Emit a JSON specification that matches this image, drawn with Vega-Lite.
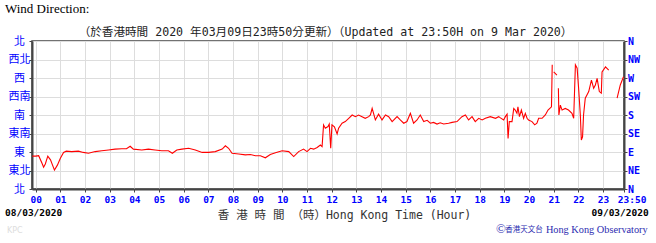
{
  "$schema": "https://vega.github.io/schema/vega-lite/v6.json",
  "width": 592,
  "height": 148,
  "autosize": "none",
  "padding": {"left": 32, "top": 41, "right": 32, "bottom": 54},
  "background": "white",
  "config": {
    "view": {"stroke": "#444", "strokeWidth": 1.5},
    "axis": {"domainColor": "#444", "domainWidth": 2, "tickColor": "#444", "tickWidth": 1, "gridColor": "#dddddd", "gridWidth": 1, "gridOpacity": 1, "labelFlush": false}
  },
  "datasets": {
    "wind": [
      {"hour": -0.14, "dir": 80}, {"hour": 0.0, "dir": 80}, {"hour": 0.12, "dir": 81}, {"hour": 0.26, "dir": 62}, {"hour": 0.32, "dir": 53}, {"hour": 0.39, "dir": 61}, {"hour": 0.49, "dir": 80}, {"hour": 0.6, "dir": 71}, {"hour": 0.76, "dir": 46}, {"hour": 0.88, "dir": 58}, {"hour": 1.0, "dir": 75}, {"hour": 1.13, "dir": 89}, {"hour": 1.24, "dir": 92}, {"hour": 1.46, "dir": 91}, {"hour": 1.73, "dir": 92}, {"hour": 1.93, "dir": 89}, {"hour": 2.14, "dir": 87}, {"hour": 2.41, "dir": 91}, {"hour": 2.68, "dir": 93}, {"hour": 2.95, "dir": 95}, {"hour": 3.22, "dir": 97}, {"hour": 3.49, "dir": 98}, {"hour": 3.68, "dir": 98}, {"hour": 3.83, "dir": 104}, {"hour": 3.96, "dir": 97}, {"hour": 4.3, "dir": 95}, {"hour": 4.57, "dir": 97}, {"hour": 4.84, "dir": 95}, {"hour": 5.11, "dir": 93}, {"hour": 5.38, "dir": 93}, {"hour": 5.54, "dir": 87}, {"hour": 5.72, "dir": 95}, {"hour": 5.93, "dir": 97}, {"hour": 6.2, "dir": 99}, {"hour": 6.47, "dir": 95}, {"hour": 6.75, "dir": 89}, {"hour": 7.01, "dir": 89}, {"hour": 7.28, "dir": 91}, {"hour": 7.56, "dir": 97}, {"hour": 7.69, "dir": 105}, {"hour": 7.82, "dir": 99}, {"hour": 7.96, "dir": 87}, {"hour": 8.23, "dir": 85}, {"hour": 8.5, "dir": 83}, {"hour": 8.7, "dir": 84}, {"hour": 8.91, "dir": 81}, {"hour": 9.11, "dir": 81}, {"hour": 9.31, "dir": 76}, {"hour": 9.51, "dir": 84}, {"hour": 9.72, "dir": 88}, {"hour": 9.99, "dir": 93}, {"hour": 10.26, "dir": 91}, {"hour": 10.46, "dir": 79}, {"hour": 10.66, "dir": 91}, {"hour": 10.86, "dir": 97}, {"hour": 11.0, "dir": 91}, {"hour": 11.14, "dir": 99}, {"hour": 11.27, "dir": 97}, {"hour": 11.41, "dir": 101}, {"hour": 11.54, "dir": 107}, {"hour": 11.61, "dir": 103}, {"hour": 11.67, "dir": 156}, {"hour": 11.74, "dir": 148}, {"hour": 11.85, "dir": 152}, {"hour": 11.9, "dir": 158}, {"hour": 11.96, "dir": 99}, {"hour": 12.01, "dir": 156}, {"hour": 12.11, "dir": 151}, {"hour": 12.22, "dir": 134}, {"hour": 12.28, "dir": 148}, {"hour": 12.42, "dir": 160}, {"hour": 12.55, "dir": 164}, {"hour": 12.69, "dir": 172}, {"hour": 12.83, "dir": 180}, {"hour": 12.96, "dir": 176}, {"hour": 13.09, "dir": 180}, {"hour": 13.23, "dir": 176}, {"hour": 13.36, "dir": 172}, {"hour": 13.5, "dir": 176}, {"hour": 13.57, "dir": 180}, {"hour": 13.64, "dir": 196}, {"hour": 13.77, "dir": 168}, {"hour": 13.9, "dir": 182}, {"hour": 14.04, "dir": 168}, {"hour": 14.18, "dir": 180}, {"hour": 14.31, "dir": 176}, {"hour": 14.45, "dir": 164}, {"hour": 14.65, "dir": 176}, {"hour": 14.78, "dir": 168}, {"hour": 14.92, "dir": 160}, {"hour": 15.05, "dir": 164}, {"hour": 15.19, "dir": 184}, {"hour": 15.32, "dir": 160}, {"hour": 15.46, "dir": 168}, {"hour": 15.59, "dir": 180}, {"hour": 15.73, "dir": 164}, {"hour": 15.87, "dir": 167}, {"hour": 16.0, "dir": 160}, {"hour": 16.13, "dir": 162}, {"hour": 16.27, "dir": 158}, {"hour": 16.4, "dir": 161}, {"hour": 16.54, "dir": 158}, {"hour": 16.74, "dir": 160}, {"hour": 16.88, "dir": 162}, {"hour": 17.08, "dir": 164}, {"hour": 17.28, "dir": 176}, {"hour": 17.42, "dir": 180}, {"hour": 17.55, "dir": 168}, {"hour": 17.69, "dir": 176}, {"hour": 17.82, "dir": 164}, {"hour": 17.96, "dir": 172}, {"hour": 18.1, "dir": 168}, {"hour": 18.23, "dir": 172}, {"hour": 18.43, "dir": 176}, {"hour": 18.64, "dir": 172}, {"hour": 18.77, "dir": 176}, {"hour": 18.84, "dir": 173}, {"hour": 18.97, "dir": 168}, {"hour": 19.04, "dir": 176}, {"hour": 19.11, "dir": 182}, {"hour": 19.15, "dir": 123}, {"hour": 19.2, "dir": 164}, {"hour": 19.31, "dir": 164}, {"hour": 19.38, "dir": 196}, {"hour": 19.44, "dir": 192}, {"hour": 19.51, "dir": 184}, {"hour": 19.55, "dir": 200}, {"hour": 19.61, "dir": 176}, {"hour": 19.69, "dir": 192}, {"hour": 19.78, "dir": 172}, {"hour": 19.85, "dir": 184}, {"hour": 19.92, "dir": 172}, {"hour": 19.98, "dir": 168}, {"hour": 20.12, "dir": 164}, {"hour": 20.23, "dir": 156}, {"hour": 20.32, "dir": 160}, {"hour": 20.39, "dir": 172}, {"hour": 20.53, "dir": 172}, {"hour": 20.66, "dir": 180}, {"hour": 20.77, "dir": 192}, {"hour": 20.91, "dir": 200}, {"hour": 20.94, "dir": 302}, {"hour": 20.96, "dir": null}, {"hour": 21.0, "dir": 285}, {"hour": 21.13, "dir": 277}, {"hour": 21.16, "dir": null}, {"hour": 21.19, "dir": 245}, {"hour": 21.21, "dir": 180}, {"hour": 21.27, "dir": 204}, {"hour": 21.34, "dir": 192}, {"hour": 21.47, "dir": 196}, {"hour": 21.6, "dir": 192}, {"hour": 21.74, "dir": 184}, {"hour": 21.81, "dir": 172}, {"hour": 21.88, "dir": 302}, {"hour": 21.95, "dir": 294}, {"hour": 22.01, "dir": 245}, {"hour": 22.08, "dir": 180}, {"hour": 22.12, "dir": 119}, {"hour": 22.17, "dir": 127}, {"hour": 22.21, "dir": 180}, {"hour": 22.28, "dir": 221}, {"hour": 22.42, "dir": 237}, {"hour": 22.53, "dir": 265}, {"hour": 22.62, "dir": 245}, {"hour": 22.69, "dir": 253}, {"hour": 22.76, "dir": 269}, {"hour": 22.85, "dir": 237}, {"hour": 22.93, "dir": 233}, {"hour": 22.96, "dir": 285}, {"hour": 23.1, "dir": 297}, {"hour": 23.23, "dir": 289}, {"hour": 23.3, "dir": null}, {"hour": 23.57, "dir": 221}, {"hour": 23.7, "dir": 253}, {"hour": 23.83, "dir": 273}
    ]
  },
  "layer": [
    {
      "data": {"name": "wind"},
      "mark": {"type": "line", "color": "#ff0000", "strokeWidth": 1.1, "clip": true},
      "encoding": {
        "x": {
          "field": "hour", "type": "quantitative",
          "scale": {"domain": [-0.15, 23.85], "nice": false, "zero": false},
          "axis": {
            "values": [0,1,2,3,4,5,6,7,8,9,10,11,12,13,14,15,16,17,18,19,20,21,22,23,23.8333],
            "labelExpr": "datum.value > 23.5 ? '23:50' : (datum.value < 10 ? '0' : '') + datum.value",
            "labelFont": "DejaVu Sans Mono", "labelFontWeight": "bold", "labelFontSize": 9.5, "labelColor": "#0000ff",
            "labelPadding": 2, "tickSize": 3, "grid": true, "labelOverlap": false,
            "labelOffset": {"condition": {"test": "datum.value > 23.5", "value": 8}, "value": 0},
            "title": "香 港 時 間 （時）Hong Kong Time (Hour)",
            "titleFont": "DejaVu Sans Mono, Noto Sans CJK TC", "titleFontSize": 11.5, "titleFontWeight": "normal", "titleColor": "#333333",
            "titleX": 312, "titleY": 29, "titleBaseline": "alphabetic", "titleAlign": "center"
          }
        },
        "y": {
          "field": "dir", "type": "quantitative",
          "scale": {"domain": [0, 360], "nice": false, "zero": false},
          "axis": {
            "orient": "left", "values": [0,45,90,135,180,225,270,315,360],
            "labelExpr": "['北','東北','東','東南','南','西南','西','西北','北'][round(datum.value/45)]",
            "labelFont": "Noto Sans CJK TC", "labelFontSize": 11, "labelColor": "#0000ff",
            "labelAlign": "center", "labelBaseline": "middle", "labelPadding": 10, "tickSize": 3,
            "grid": true, "title": null
          }
        }
      }
    },
    {
      "data": {"name": "wind"},
      "mark": {"type": "line", "strokeOpacity": 0},
      "encoding": {
        "x": {"field": "hour", "type": "quantitative", "axis": null},
        "y": {
          "field": "dir", "type": "quantitative",
          "axis": {
            "orient": "right", "values": [0,45,90,135,180,225,270,315,360],
            "labelExpr": "['N','NE','E','SE','S','SW','W','NW','N'][round(datum.value/45)]",
            "labelFont": "DejaVu Sans Mono", "labelFontWeight": "bold", "labelFontSize": 10, "labelColor": "#0000ff",
            "labelAlign": "left", "labelBaseline": "middle", "labelPadding": 0.5, "tickSize": 3,
            "grid": false, "title": null
          }
        }
      }
    },
    {
      "data": {"values": [{}]},
      "mark": {"type": "text", "text": "Wind Direction:", "font": "Liberation Serif", "fontSize": 13, "color": "#000000", "align": "left", "baseline": "alphabetic", "dx": -27, "dy": -28},
      "encoding": {"x": {"datum": -0.15, "type": "quantitative", "axis": null}, "y": {"datum": 360, "type": "quantitative", "axis": null}}
    },
    {
      "data": {"values": [{}]},
      "mark": {"type": "text", "text": "（於香港時間 2020 年03月09日23時50分更新）（Updated at 23:50H on 9 Mar 2020）", "font": "DejaVu Sans Mono, Noto Sans CJK TC", "fontSize": 11.6, "color": "#222222", "align": "center", "baseline": "alphabetic", "dy": -5},
      "encoding": {"x": {"datum": 11.75, "type": "quantitative", "axis": null}, "y": {"datum": 360, "type": "quantitative", "axis": null}}
    },
    {
      "data": {"values": [{}]},
      "mark": {"type": "text", "text": "08/03/2020", "font": "DejaVu Sans Mono", "fontWeight": "bold", "fontSize": 9.5, "color": "#000000", "align": "left", "baseline": "alphabetic", "dx": -27, "dy": 27},
      "encoding": {"x": {"datum": -0.15, "type": "quantitative", "axis": null}, "y": {"datum": 0, "type": "quantitative", "axis": null}}
    },
    {
      "data": {"values": [{}]},
      "mark": {"type": "text", "text": "09/03/2020", "font": "DejaVu Sans Mono", "fontWeight": "bold", "fontSize": 9.5, "color": "#000000", "align": "right", "baseline": "alphabetic", "dx": 24.7, "dy": 27},
      "encoding": {"x": {"datum": 23.85, "type": "quantitative", "axis": null}, "y": {"datum": 0, "type": "quantitative", "axis": null}}
    },
    {
      "data": {"values": [{}]},
      "mark": {"type": "text", "text": "©", "font": "Liberation Serif", "fontSize": 13, "color": "#2b2bb0", "align": "right", "baseline": "alphabetic", "dx": -118, "dy": 44},
      "encoding": {"x": {"datum": 23.85, "type": "quantitative", "axis": null}, "y": {"datum": 0, "type": "quantitative", "axis": null}}
    },
    {
      "data": {"values": [{}]},
      "mark": {"type": "text", "text": "香港天文台", "font": "Noto Sans CJK TC", "fontSize": 7.5, "color": "#2b2bb0", "align": "right", "baseline": "alphabetic", "dx": -81.3, "dy": 43},
      "encoding": {"x": {"datum": 23.85, "type": "quantitative", "axis": null}, "y": {"datum": 0, "type": "quantitative", "axis": null}}
    },
    {
      "data": {"values": [{}]},
      "mark": {"type": "text", "text": "Hong Kong Observatory", "font": "Liberation Serif", "fontSize": 10.3, "color": "#2b2bb0", "align": "right", "baseline": "alphabetic", "dx": 23.7, "dy": 44},
      "encoding": {"x": {"datum": 23.85, "type": "quantitative", "axis": null}, "y": {"datum": 0, "type": "quantitative", "axis": null}}
    },
    {
      "data": {"values": [{}]},
      "mark": {"type": "text", "text": "KPC", "font": "DejaVu Sans", "fontSize": 8, "color": "#dddddd", "align": "left", "baseline": "alphabetic", "dx": -25, "dy": 44},
      "encoding": {"x": {"datum": -0.15, "type": "quantitative", "axis": null}, "y": {"datum": 0, "type": "quantitative", "axis": null}}
    }
  ],
  "resolve": {"axis": {"x": "independent", "y": "independent"}}
}
